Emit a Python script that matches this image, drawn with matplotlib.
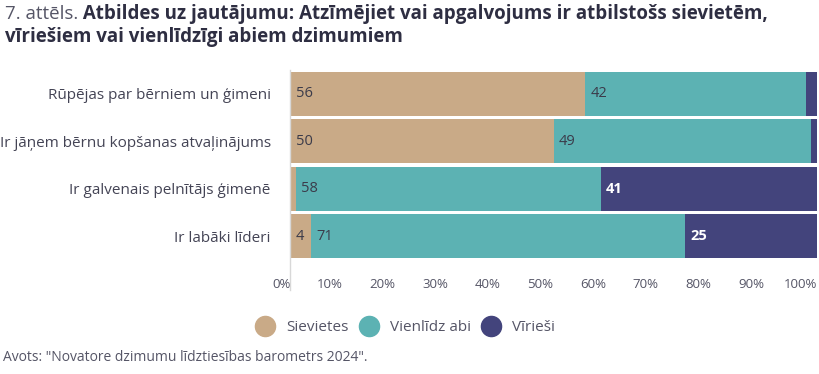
import matplotlib
matplotlib.use('Agg')
import matplotlib.pyplot as plt
import matplotlib.transforms as mtransforms
from matplotlib.lines import Line2D
import numpy as np

plt.rcParams['font.family'] = ['Open Sans', 'DejaVu Sans']

categories = ["Rūpējas par bērniem un ģimeni",
              "Ir jāņem bērnu kopšanas atvaļinājums",
              "Ir galvenais pelnītājs ģimenē",
              "Ir labāki līderi"]
sievietes = [56, 50, 1, 4]
abi = [42, 49, 58, 71]
virieshi = [2, 1, 41, 25]
series_names = ["Sievietes", "Vienlīdz abi", "Vīrieši"]
colors = ["#C9AA87", "#5CB2B3", "#43447C"]
xticks = [0, 10, 20, 30, 40, 50, 60, 70, 80, 90, 100]

fig = plt.figure(figsize=(8.2, 3.74), dpi=100)
ax = fig.add_axes([0.354, 0.305, 0.642, 0.508])

y = np.arange(len(categories))
left = np.zeros(len(categories))
for name, vals, col in zip(series_names, [sievietes, abi, virieshi], colors):
    vals = np.array(vals, dtype=float)
    ax.barh(y, vals, left=left, height=0.92, color=col, label=name,
            edgecolor='none')
    # value labels, small segments left unlabelled
    for yi, l, v in zip(y, left, vals):
        if v >= 3:
            txtcol = 'white' if col == colors[2] else '#3b3b4a'
            weight = 'bold' if col == colors[2] else 'normal'
            ax.text(l + 1.0, yi, f"{int(v)}", va='center', ha='left',
                    fontsize=10.5, color=txtcol, fontweight=weight)
    left += vals

ax.set_xlim(0, 100)
ax.set_ylim(3.5, -0.5)
ax.set_yticks(y)
ax.set_yticklabels(categories, fontsize=11, color='#444455')
ax.set_xticks(xticks)
ax.set_xticklabels([f"{t}%" for t in xticks], fontsize=9.5, color='#555566',
                   ha='right')
shift = mtransforms.ScaledTranslation(-8 / 100, 0, fig.dpi_scale_trans)
for lab in ax.get_xticklabels():
    lab.set_transform(lab.get_transform() + shift)
ax.tick_params(axis='y', length=0, pad=14)
ax.tick_params(axis='x', length=0, pad=13)
for s in ['top', 'right', 'bottom', 'left']:
    ax.spines[s].set_visible(False)
ax.axvline(0, ymin=-0.16, ymax=1.0, color='#d8d8d8', lw=1, clip_on=False)

mk = [Line2D([0], [0], marker='o', linestyle='none', markersize=14.5,
             markerfacecolor=c, markeredgecolor=c) for c in colors]
fig.legend(mk, series_names, loc='center', bbox_to_anchor=(0.494, 0.123),
           ncol=3, frameon=False, fontsize=11, handlelength=1.3,
           columnspacing=0.7, handletextpad=0.7, labelcolor='#555566')

# title: grey prefix + bold text on the same line
t1 = fig.text(0.006, 0.963, "7. attēls.", fontsize=13.5, color='#555566',
              va='center', ha='left')
ax.annotate(" Atbildes uz jautājumu: Atzīmējiet vai apgalvojums ir atbilstošs sievietēm,",
            xy=(1, 0.5), xycoords=t1, va='center', ha='left',
            fontsize=13.5, color='#2e2e42', fontweight='bold',
            annotation_clip=False)
fig.text(0.006, 0.9, "vīriešiem vai vienlīdzīgi abiem dzimumiem",
         fontsize=13.5, color='#2e2e42', fontweight='bold', va='center', ha='left')
fig.text(0.004, 0.045, "Avots: \"Novatore dzimumu līdztiesības barometrs 2024\".",
         fontsize=10, color='#555566', va='center', ha='left')

fig.savefig("out.png", dpi=100)
